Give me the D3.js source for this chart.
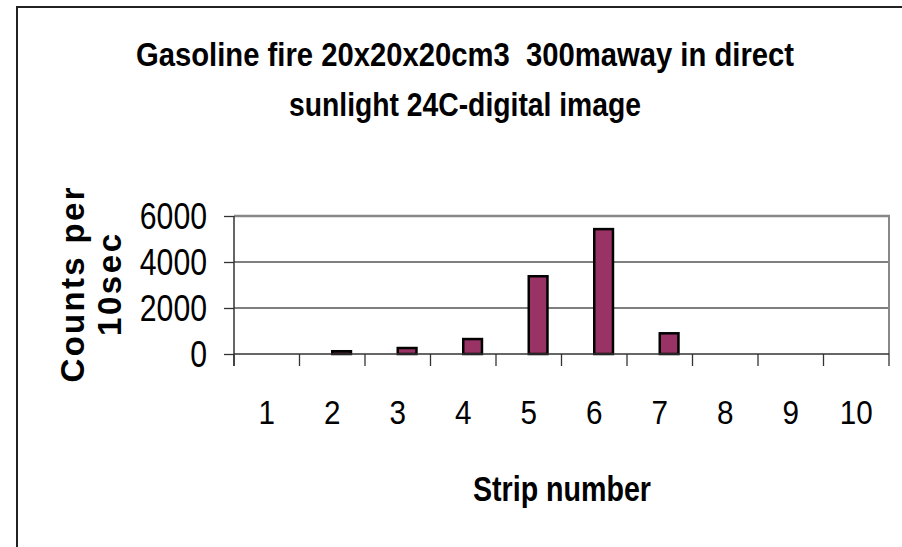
<!DOCTYPE html>
<html>
<head>
<meta charset="utf-8">
<script src="https://cdn.jsdelivr.net/npm/d3@7"></script>
<style>
  html, body { margin: 0; padding: 0; background: #fff; }
  svg { display: block; }
  text { font-family: "Liberation Sans", Arial, sans-serif; fill: #000; white-space: pre; }
</style>
</head>
<body>
<div id="chart"></div>
<script>
// ---- data ----
const categories = ["1", "2", "3", "4", "5", "6", "7", "8", "9", "10"];
const countsPer10s = [0, 120, 260, 650, 3380, 5430, 900, 0, 0, 0];
const seriesSlots = ["(empty)", "Counts per 10sec"];
const yTicks = [0, 2000, 4000, 6000];
const titleLines = ["Gasoline fire 20x20x20cm3  300maway in direct", "sunlight 24C-digital image"];
const yTitleLines = ["Counts per", "10sec"];
const xTitle = "Strip number";

const W = 902, H = 547;
const plot = { left: 234, right: 889, top: 216, bottom: 354 };

const svg = d3.select("#chart").append("svg").attr("width", W).attr("height", H);

// outer chart frame
svg.append("rect").attr("x", 17).attr("y", 7).attr("width", 900).attr("height", 600)
  .attr("fill", "#fff").attr("stroke", "#222").attr("stroke-width", 2);

const x = d3.scaleBand().domain(categories).range([plot.left, plot.right]).padding(0);
const xSub = d3.scaleBand().domain(seriesSlots).range([0, x.bandwidth()]).paddingInner(0).paddingOuter(0.75);
const y = d3.scaleLinear().domain([0, 6000]).range([plot.bottom, plot.top]);

// gridlines
svg.append("g").selectAll("line").data(yTicks.filter(d => d > 0 && d < 6000)).join("line")
  .attr("x1", plot.left).attr("x2", plot.right)
  .attr("y1", d => y(d)).attr("y2", d => y(d))
  .attr("stroke", "#555").attr("stroke-width", 1.3);

// plot top & right border (grey)
svg.append("line").attr("x1", plot.left).attr("x2", plot.right + 1).attr("y1", y(6000)).attr("y2", y(6000))
  .attr("stroke", "#888").attr("stroke-width", 2.5);
svg.append("line").attr("x1", plot.right).attr("x2", plot.right).attr("y1", y(6000)).attr("y2", plot.bottom)
  .attr("stroke", "#888").attr("stroke-width", 2);

// bars
svg.append("g").selectAll("rect").data(categories.map((c, i) => ({ c, v: countsPer10s[i] })).filter(d => d.v > 0))
  .join("rect")
  .attr("x", d => x(d.c) + xSub(seriesSlots[1]))
  .attr("width", xSub.bandwidth())
  .attr("y", d => y(d.v))
  .attr("height", d => y(0) - y(d.v))
  .attr("fill", "#993366").attr("stroke", "#000").attr("stroke-width", 2.5);

// y axis
const yAxis = d3.axisLeft(y).tickValues(yTicks).tickSize(10).tickFormat(d3.format("d"));
const gy = svg.append("g").attr("transform", `translate(${plot.left},0)`).call(yAxis);
gy.select(".domain").remove();
gy.selectAll(".tick line").attr("stroke", "#333").attr("stroke-width", 1.3);
gy.selectAll(".tick text").attr("x", -27).attr("dy", "0.35em")
  .style("font-size", "36px").style("font-family", "'Liberation Sans', Arial, sans-serif")
  .attr("fill", "#000")
  .each(function (d) { const s = String(d); d3.select(this).attr("textLength", s.length * 16.8).attr("lengthAdjust", "spacingAndGlyphs"); });
svg.append("line").attr("x1", plot.left).attr("x2", plot.left).attr("y1", plot.top).attr("y2", plot.bottom + 12)
  .attr("stroke", "#333").attr("stroke-width", 1.5);

// x axis
const xAxis = d3.axisBottom(x).tickSize(0).tickPadding(0);
const gx = svg.append("g").attr("transform", `translate(0,${plot.bottom})`).call(xAxis);
gx.select(".domain").remove();
gx.selectAll(".tick text").attr("y", 70).attr("dy", 0)
  .style("font-size", "33px").style("font-family", "'Liberation Sans', Arial, sans-serif").attr("fill", "#000")
  .each(function (d) { d3.select(this).attr("textLength", String(d).length * 16.5).attr("lengthAdjust", "spacingAndGlyphs"); });
svg.append("line").attr("x1", plot.left).attr("x2", plot.right).attr("y1", plot.bottom).attr("y2", plot.bottom)
  .attr("stroke", "#333").attr("stroke-width", 1.5);
// category boundary ticks
const bounds = categories.map(c => x(c)).concat([plot.right]);
svg.append("g").selectAll("line").data(bounds).join("line")
  .attr("x1", d => d).attr("x2", d => d).attr("y1", plot.bottom).attr("y2", plot.bottom + 12)
  .attr("stroke", "#333").attr("stroke-width", 1.3);

// title
const tt = svg.append("g");
tt.selectAll("text").data(titleLines).join("text")
  .attr("x", 465).attr("y", (d, i) => 66 + i * 50)
  .attr("text-anchor", "middle")
  .style("font-size", "34px").style("font-weight", "bold")
  .attr("textLength", (d, i) => i === 0 ? 658 : 352)
  .attr("lengthAdjust", "spacingAndGlyphs")
  .text(d => d);

// y title
svg.append("g").selectAll("text").data(yTitleLines).join("text")
  .attr("transform", (d, i) => `translate(${84 + i * 37},285) rotate(-90)`)
  .attr("text-anchor", "middle")
  .style("font-size", "33px").style("font-weight", "bold")
  .attr("textLength", (d, i) => i === 0 ? 195 : 102)
  .attr("lengthAdjust", "spacing")
  .text(d => d);

// x title
svg.append("text").attr("x", 562).attr("y", 501).attr("text-anchor", "middle")
  .style("font-size", "35px").style("font-weight", "bold")
  .attr("textLength", 178).attr("lengthAdjust", "spacingAndGlyphs")
  .text(xTitle);
</script>
</body>
</html>
